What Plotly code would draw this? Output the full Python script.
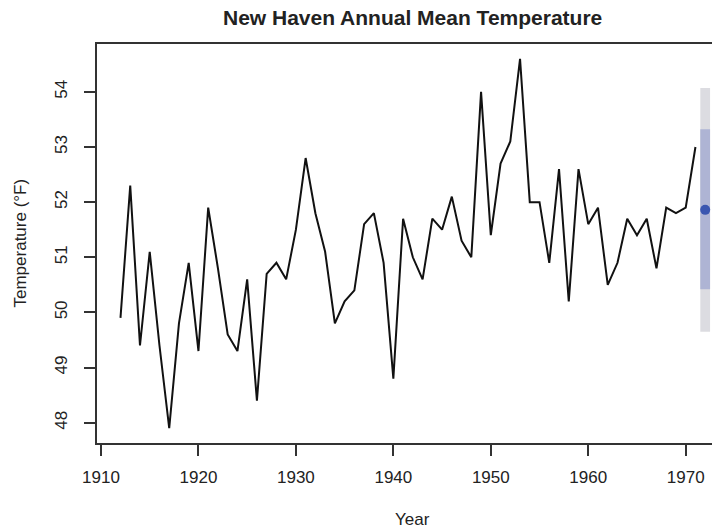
import plotly.graph_objects as go

years = list(range(1912, 1972))
temps = [49.9, 52.3, 49.4, 51.1, 49.4, 47.9, 49.8, 50.9, 49.3, 51.9,
         50.8, 49.6, 49.3, 50.6, 48.4, 50.7, 50.9, 50.6, 51.5, 52.8,
         51.8, 51.1, 49.8, 50.2, 50.4, 51.6, 51.8, 50.9, 48.8, 51.7,
         51.0, 50.6, 51.7, 51.5, 52.1, 51.3, 51.0, 54.0, 51.4, 52.7,
         53.1, 54.6, 52.0, 52.0, 50.9, 52.6, 50.2, 52.6, 51.6, 51.9,
         50.5, 50.9, 51.7, 51.4, 51.7, 50.8, 51.9, 51.8, 51.9, 53.0]

forecast_year = 1972
forecast_mean = 51.86
inner_lo, inner_hi = 50.42, 53.32
outer_lo, outer_hi = 49.65, 54.07

x_ticks = [1910, 1920, 1930, 1940, 1950, 1960, 1970]
y_ticks = [48, 49, 50, 51, 52, 53, 54]

FONT = "Liberation Sans, Arial, Helvetica, sans-serif"
hw = 0.5

fig = go.Figure()

def rect(lo, hi, color):
    fig.add_trace(go.Scatter(
        x=[forecast_year - hw, forecast_year + hw, forecast_year + hw, forecast_year - hw, forecast_year - hw],
        y=[lo, lo, hi, hi, lo],
        fill="toself", fillcolor=color, line=dict(width=0), mode="lines",
        hoverinfo="skip", showlegend=False))

rect(outer_lo, outer_hi, "#dcdce1")
rect(inner_lo, inner_hi, "#aeb4d4")

fig.add_trace(go.Scatter(x=years, y=temps, mode="lines",
                         line=dict(color="#111111", width=2), showlegend=False))
fig.add_trace(go.Scatter(x=[forecast_year], y=[forecast_mean], mode="markers",
                         marker=dict(color="#3a56b0", size=10), showlegend=False))

W, H = 720, 530
L, R, T, B = 89, 0, 36, 95
pw, ph = W - L - R, H - T - B

fig.update_layout(
    width=W, height=H,
    margin=dict(l=L, r=R, t=T, b=B, pad=0, autoexpand=False),
    paper_bgcolor="white", plot_bgcolor="white",
    font=dict(family=FONT, size=17, color="#222222"),
    xaxis=dict(range=[1909.59, 1974.34], tickvals=x_ticks, ticktext=[str(v) for v in x_ticks],
               showgrid=False, zeroline=False, showline=True, mirror=True,
               linecolor="#333333", linewidth=1.5, ticks="outside", ticklen=11,
               tickwidth=1.5, tickcolor="#333333", ticklabelstandoff=7, automargin=False,
               tickfont=dict(size=17, family=FONT, color="#222222")),
    yaxis=dict(range=[47.632, 54.868], tickvals=y_ticks, ticktext=[str(v) for v in y_ticks],
               showgrid=False, zeroline=False, showline=True, mirror=False,
               linecolor="#333333", linewidth=1.5, ticks="outside", ticklen=11,
               tickwidth=1.5, tickcolor="#333333", tickangle=-90, ticklabelstandoff=10,
               automargin=False,
               tickfont=dict(size=17, family=FONT, color="#222222")),
    annotations=[
        dict(text="<b>New Haven Annual Mean Temperature</b>", xref="paper", yref="paper",
             x=(404 - L) / pw, y=1 + (T - 9.5) / ph, xanchor="center", yanchor="middle",
             showarrow=False, font=dict(size=21, family=FONT, color="#222222")),
        dict(text="Year", xref="paper", yref="paper",
             x=(404 - L) / pw, y=-(511 - (T + ph)) / ph, xanchor="center", yanchor="middle",
             showarrow=False, font=dict(size=17, family=FONT, color="#222222")),
        dict(text="Temperature (°F)", xref="paper", yref="paper", textangle=-90,
             x=(12 - L) / pw, y=0.5, xanchor="center", yanchor="middle",
             showarrow=False, font=dict(size=17, family=FONT, color="#222222")),
    ],
)

fig.write_html("out.html")
